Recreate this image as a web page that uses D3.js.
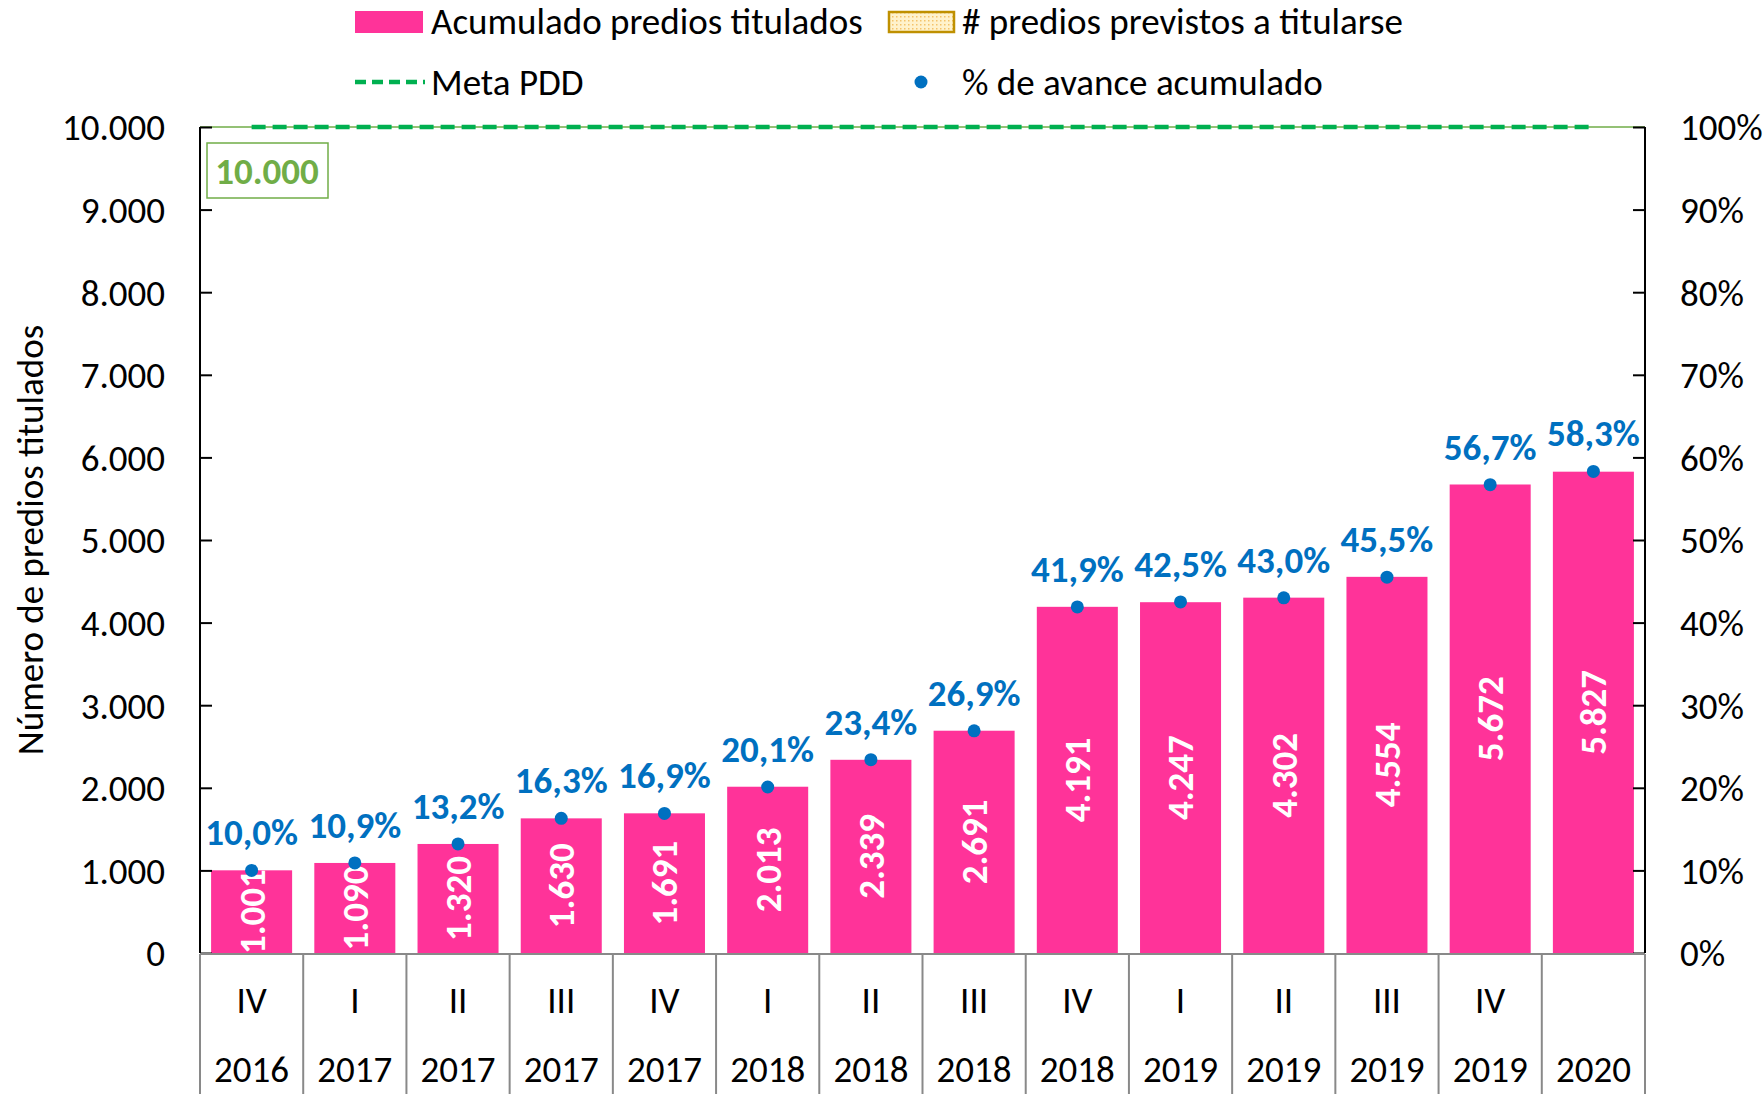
<!DOCTYPE html>
<html>
<head>
<meta charset="utf-8">
<script src="https://cdn.jsdelivr.net/npm/d3@7"></script>
<style>
  body { margin: 0; background: #fff; }
  svg { font-family: Carlito, Lato, "Liberation Sans", sans-serif; }
</style>
</head>
<body>
<div id="chart"></div>
<script>
const quarters = ["IV", "I", "II", "III", "IV", "I", "II", "III", "IV", "I", "II", "III", "IV", ""];
const years = ["2016", "2017", "2017", "2017", "2017", "2018", "2018", "2018", "2018", "2019", "2019", "2019", "2019", "2020"];
const titulados = [1001, 1090, 1320, 1630, 1691, 2013, 2339, 2691, 4191, 4247, 4302, 4554, 5672, 5827];
const avance = [10.0, 10.9, 13.2, 16.3, 16.9, 20.1, 23.4, 26.9, 41.9, 42.5, 43.0, 45.5, 56.7, 58.3];
const metaPDD = 10000;
const leftTicks = [0, 1000, 2000, 3000, 4000, 5000, 6000, 7000, 8000, 9000, 10000];
const rightTicks = [0, 10, 20, 30, 40, 50, 60, 70, 80, 90, 100];

const W = 1764, H = 1094;
const m = { left: 200, right: 119, top: 127, bottom: 141 };
const x0 = m.left, x1 = W - m.right, y0 = H - m.bottom, y1 = m.top;
const fs = 37;

const pink = "#FF3399", blue = "#0070C0", green = "#00B050", lgreen = "#70AD47", grey = "#898989";
const fmt = d3.formatLocale({ decimal: ",", thousands: ".", grouping: [3] });
const num = fmt.format(",d");
const pct = fmt.format(".1f");

const svg = d3.select("#chart").append("svg").attr("width", W).attr("height", H);

const idx = d3.range(titulados.length);
const x = d3.scaleBand().domain(idx).range([x0, x1]).paddingInner(0.215).paddingOuter(0.1075);
const xc = d3.scaleBand().domain(idx).range([x0, x1]);
const y = d3.scaleLinear().domain([0, 10000]).range([y0, y1]);
const y2 = d3.scaleLinear().domain([0, 100]).range([y0, y1]);

svg.append("clipPath").attr("id", "plot")
  .append("rect").attr("x", x0).attr("y", y1 - 20).attr("width", x1 - x0).attr("height", y0 - y1 + 20);

// bars
const plot = svg.append("g").attr("clip-path", "url(#plot)");
plot.selectAll(".bar").data(idx).enter().append("rect")
  .attr("class", "bar")
  .attr("x", d => x(d))
  .attr("width", x.bandwidth())
  .attr("y", d => y(titulados[d]))
  .attr("height", d => y0 - y(titulados[d]))
  .attr("fill", pink);

plot.selectAll(".val").data(idx).enter().append("text")
  .attr("class", "val")
  .attr("transform", d => "translate(" + (x(d) + x.bandwidth() / 2) + "," + ((y(titulados[d]) + y0) / 2) + ") rotate(-90)")
  .attr("text-anchor", "middle")
  .attr("dy", "0.35em")
  .attr("fill", "#fff")
  .attr("font-weight", "bold")
  .attr("font-size", fs)
  .text(d => num(titulados[d]));

// meta line
svg.append("line")
  .attr("x1", x0).attr("x2", x1).attr("y1", y(metaPDD)).attr("y2", y(metaPDD))
  .attr("stroke", lgreen).attr("stroke-width", 1.5);
svg.append("line")
  .attr("x1", xc(0) + xc.bandwidth() / 2).attr("x2", xc(idx.length - 1) + xc.bandwidth() / 2)
  .attr("y1", y(metaPDD)).attr("y2", y(metaPDD))
  .attr("stroke", green).attr("stroke-width", 4.5)
  .attr("stroke-dasharray", "14,7");

svg.append("rect")
  .attr("x", 207).attr("y", 143).attr("width", 121).attr("height", 55)
  .attr("fill", "#fff").attr("stroke", lgreen).attr("stroke-width", 1.5);
svg.append("text")
  .attr("x", 267).attr("y", 184)
  .attr("text-anchor", "middle")
  .attr("fill", lgreen).attr("font-weight", "bold").attr("font-size", fs)
  .text(num(metaPDD));

// axes
const yAxis = svg.append("g")
  .attr("transform", "translate(" + x0 + ",0)")
  .call(d3.axisRight(y).tickValues(leftTicks).tickSize(12).tickFormat(""));
const y2Axis = svg.append("g")
  .attr("transform", "translate(" + x1 + ",0)")
  .call(d3.axisLeft(y2).tickValues(rightTicks).tickSize(12).tickFormat(""));
[yAxis, y2Axis].forEach(g => {
  g.selectAll("path,line").attr("stroke", "#000").attr("stroke-width", 2);
  g.select(".domain").attr("d", "M0," + y1 + "V" + y0);
});

svg.selectAll(".ylab").data(leftTicks).enter().append("text")
  .attr("class", "ylab")
  .attr("x", 165).attr("y", d => y(d)).attr("dy", "0.36em")
  .attr("text-anchor", "end").attr("font-size", fs)
  .text(d => num(d));
svg.selectAll(".y2lab").data(rightTicks).enter().append("text")
  .attr("class", "y2lab")
  .attr("x", 1680).attr("y", d => y2(d)).attr("dy", "0.36em")
  .attr("text-anchor", "start").attr("font-size", fs)
  .text(d => d + "%");

svg.append("text")
  .attr("transform", "translate(43," + ((y0 + y1) / 2) + ") rotate(-90)")
  .attr("text-anchor", "middle").attr("font-size", fs)
  .text("Número de predios titulados");

// category axis
svg.append("line")
  .attr("x1", x0).attr("x2", x1).attr("y1", y0 + 1).attr("y2", y0 + 1)
  .attr("stroke", grey).attr("stroke-width", 2);
svg.selectAll(".sep").data(d3.range(idx.length + 1)).enter().append("line")
  .attr("class", "sep")
  .attr("x1", d => x0 + d * xc.step()).attr("x2", d => x0 + d * xc.step())
  .attr("y1", y0 + 1).attr("y2", H)
  .attr("stroke", grey).attr("stroke-width", 2);
svg.selectAll(".q").data(idx).enter().append("text")
  .attr("class", "q")
  .attr("x", d => xc(d) + xc.bandwidth() / 2).attr("y", 1013)
  .attr("text-anchor", "middle").attr("font-size", fs)
  .text(d => quarters[d]);
svg.selectAll(".yr").data(idx).enter().append("text")
  .attr("class", "yr")
  .attr("x", d => xc(d) + xc.bandwidth() / 2).attr("y", 1082)
  .attr("text-anchor", "middle").attr("font-size", fs)
  .text(d => years[d]);

// avance points
svg.selectAll(".dot").data(idx).enter().append("circle")
  .attr("class", "dot")
  .attr("cx", d => xc(d) + xc.bandwidth() / 2)
  .attr("cy", d => y2(avance[d]))
  .attr("r", 6.5)
  .attr("fill", blue);
svg.selectAll(".pct").data(idx).enter().append("text")
  .attr("class", "pct")
  .attr("x", d => xc(d) + xc.bandwidth() / 2)
  .attr("y", d => y2(avance[d]) - 25)
  .attr("text-anchor", "middle")
  .attr("fill", blue).attr("font-weight", "bold").attr("font-size", fs)
  .text(d => pct(avance[d]) + "%");

// legend
const defs = svg.append("defs");
const pat = defs.append("pattern").attr("id", "dots")
  .attr("width", 4).attr("height", 4).attr("patternUnits", "userSpaceOnUse");
pat.append("rect").attr("width", 4).attr("height", 4).attr("fill", "#FFF2CC");
pat.append("rect").attr("width", 1.5).attr("height", 1.5).attr("fill", "#F4C36A");

const legend = svg.append("g").attr("font-size", fs);
legend.append("rect").attr("x", 355).attr("y", 11).attr("width", 68).attr("height", 22).attr("fill", pink);
legend.append("text").attr("x", 431).attr("y", 34).text("Acumulado predios titulados");
legend.append("rect").attr("x", 889).attr("y", 12).attr("width", 65).attr("height", 20)
  .attr("fill", "url(#dots)").attr("stroke", "#BF9000").attr("stroke-width", 2.5);
legend.append("text").attr("x", 962).attr("y", 34).text("# predios previstos a titularse");
legend.append("line").attr("x1", 355).attr("x2", 425).attr("y1", 82).attr("y2", 82)
  .attr("stroke", green).attr("stroke-width", 4.5).attr("stroke-dasharray", "11,6");
legend.append("text").attr("x", 431).attr("y", 95).text("Meta PDD");
legend.append("circle").attr("cx", 921).attr("cy", 82).attr("r", 6.5).attr("fill", blue);
legend.append("text").attr("x", 962).attr("y", 95).text("% de avance acumulado");
</script>
</body>
</html>
